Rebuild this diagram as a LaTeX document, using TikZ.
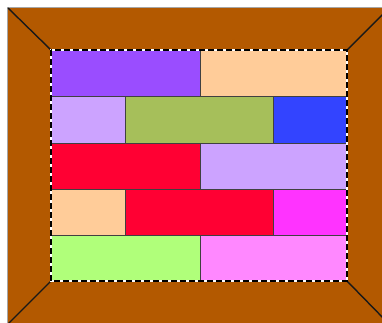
\documentclass[tikz,border=0pt]{standalone}
\definecolor{brown1}{HTML}{B35900}
\definecolor{cPurple}{HTML}{9A4DFF}
\definecolor{cPeach}{HTML}{FFCC99}
\definecolor{cLav}{HTML}{CCA3FF}
\definecolor{cOlive}{HTML}{A6BF5A}
\definecolor{cBlue}{HTML}{3344FF}
\definecolor{cRed}{HTML}{FF0033}
\definecolor{cMag}{HTML}{FF33FF}
\definecolor{cLGreen}{HTML}{B0FF7A}
\definecolor{cPink}{HTML}{FF88FF}
\tikzset{
  brick/.style={draw=black!75, line width=0.9pt},
  diag/.style={draw=black!90, line width=1.4pt},
}
\begin{document}
\begin{tikzpicture}[x=1pt,y=-1pt]
\useasboundingbox (0,0) rectangle (382,322);
\fill[white] (0,0) rectangle (382,322);
\begin{scope}
\clip (0,0) rectangle (382,322);
\fill[brown1] (8,8) rectangle (389,324);
\draw[gray!70, line width=1pt] (7.5,330) -- (7.5,7.5) -- (390,7.5);
\draw[diag] (8,8) -- (51,50);
\draw[diag] (389,8) -- (347,50);
\draw[diag] (8,324) -- (51,281);
\draw[diag] (389,324) -- (347,281);
\end{scope}
% row 1
\filldraw[brick, fill=cPurple] (51,50) rectangle (200,96);
\filldraw[brick, fill=cPeach] (200,50) rectangle (347,96);
% row 2
\filldraw[brick, fill=cLav] (51,96) rectangle (125,143);
\filldraw[brick, fill=cOlive] (125,96) rectangle (273,143);
\filldraw[brick, fill=cBlue] (273,96) rectangle (347,143);
% row 3
\filldraw[brick, fill=cRed] (51,143) rectangle (200,189);
\filldraw[brick, fill=cLav] (200,143) rectangle (347,189);
% row 4
\filldraw[brick, fill=cPeach] (51,189) rectangle (125,235);
\filldraw[brick, fill=cRed] (125,189) rectangle (273,235);
\filldraw[brick, fill=cMag] (273,189) rectangle (347,235);
% row 5
\filldraw[brick, fill=cLGreen] (51,235) rectangle (200,281);
\filldraw[brick, fill=cPink] (200,235) rectangle (347,281);
% dashed border
\draw[white, line width=2.2pt] (51,50) rectangle (347,281);
\draw[black, line width=2.2pt, dash pattern=on 6pt off 3pt] (51,50) rectangle (347,281);
\end{tikzpicture}
\end{document}
